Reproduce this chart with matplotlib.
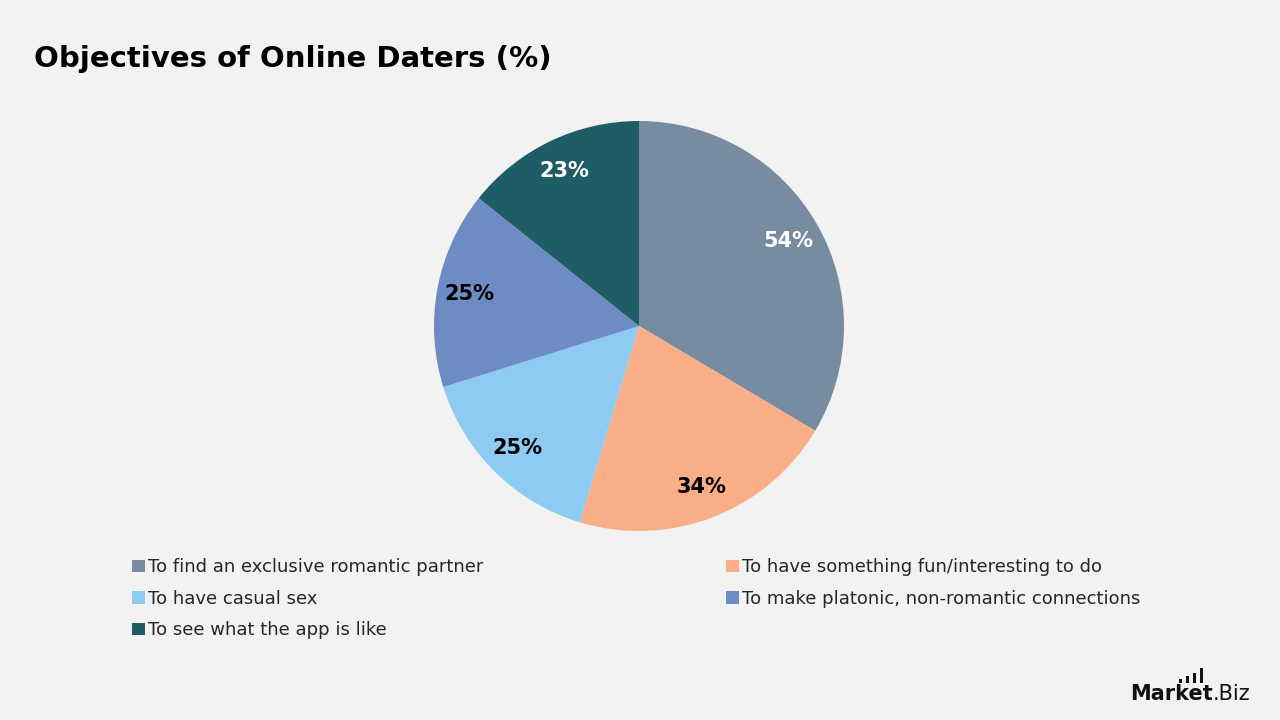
import matplotlib.pyplot as plt
from matplotlib.patches import Patch, Rectangle

# data
objectives = ["To find an exclusive romantic partner",
              "To have something fun/interesting to do",
              "To have casual sex",
              "To make platonic, non-romantic connections",
              "To see what the app is like"]
shares = [54, 34, 25, 25, 23]
colors = ["#778ca0", "#f9ae88", "#8dcbf2", "#6c8cc3", "#1f5d66"]
label_colors = ["white", "black", "black", "black", "white"]

bg = "#f2f2f2"
plt.rcParams['font.family'] = ['DejaVu Sans']

fig = plt.figure(figsize=(12.8, 7.2), dpi=100, facecolor=bg)

# pie axes, centred around (639, 326) px with radius ~205 px
ax = fig.add_axes([434/1280, 189/720, 410/1280, 410/720])
ax.set_facecolor(bg)
wedges, texts = ax.pie(shares, colors=colors, startangle=90, counterclock=False,
                       labels=[f"{v}%" for v in shares], labeldistance=0.84,
                       wedgeprops=dict(linewidth=0))
for t, c in zip(texts, label_colors):
    t.set_color(c)
    t.set_fontsize(15)
    t.set_fontweight('bold')
    t.set_ha('center')
    t.set_va('center')
ax.set_xlim(-1, 1)
ax.set_ylim(-1, 1)
ax.set_aspect('equal')
ax.axis('off')

# title
fig.text(34/1280, 1 - 67/720, "Objectives of Online Daters (%)", fontsize=21,
         fontweight='bold', ha='left', va='baseline', color='black')

# legend in two columns
left_idx = [0, 2, 4]
right_idx = [1, 3]
for idx, x0 in [(left_idx, 116/1280), (right_idx, 710/1280)]:
    handles = [Patch(facecolor=colors[i], edgecolor='none') for i in idx]
    leg = fig.legend(handles, [objectives[i] for i in idx], loc='upper left',
                     bbox_to_anchor=(x0, 1 - 542/720), frameon=False,
                     fontsize=13, handlelength=0.7, handleheight=0.7,
                     handletextpad=0.2, labelspacing=0.75, labelcolor='#262626')

# logo
renderer = fig.canvas.get_renderer()
m = fig.text(1130/1280, 1 - 700/720, "Market", fontsize=15, fontweight='bold',
             ha='left', va='baseline', color='#111111')
bb = m.get_window_extent(renderer)
fig.text(bb.x1/1280, 1 - 700/720, ".Biz", fontsize=15,
         ha='left', va='baseline', color='#111111')
bx = bb.x1 - 34
for k, (top, bot) in enumerate([(679, 683), (676, 683), (673, 683), (668, 683)]):
    fig.patches.append(Rectangle(((bx + 7*k)/1280, (720 - bot)/720), 3.5/1280,
                                 (bot - top)/720, transform=fig.transFigure,
                                 facecolor='#111111', edgecolor='none'))

fig.savefig("out.png", dpi=100, facecolor=bg)
